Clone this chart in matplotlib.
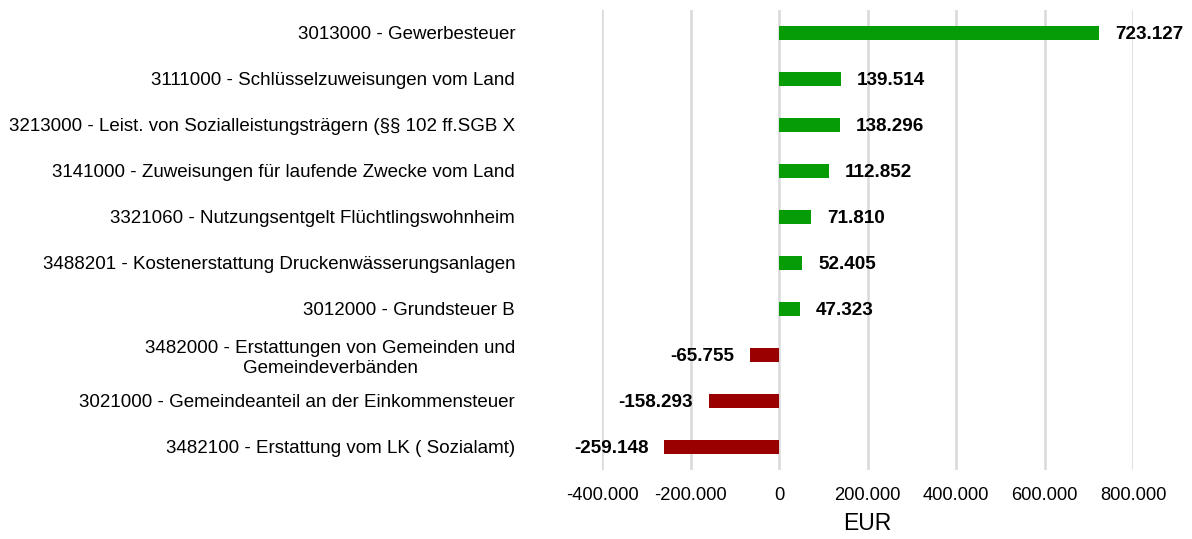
import matplotlib
matplotlib.use("Agg")
import matplotlib.pyplot as plt
from matplotlib.ticker import FuncFormatter

categories = [
    "3013000 - Gewerbesteuer",
    "3111000 - Schlüsselzuweisungen vom Land",
    "3213000 - Leist. von Sozialleistungsträgern (§§ 102 ff.SGB X",
    "3141000 - Zuweisungen für laufende Zwecke vom Land",
    "3321060 - Nutzungsentgelt Flüchtlingswohnheim",
    "3488201 - Kostenerstattung Druckenwässerungsanlagen",
    "3012000 - Grundsteuer B",
    "3482000 - Erstattungen von Gemeinden und\nGemeindeverbänden",
    "3021000 - Gemeindeanteil an der Einkommensteuer",
    "3482100 - Erstattung vom LK ( Sozialamt)",
]
values = [723127, 139514, 138296, 112852, 71810, 52405, 47323, -65755, -158293, -259148]
xticks = [-400000, -200000, 0, 200000, 400000, 600000, 800000]

GREEN = "#069C06"
RED = "#990000"

def de(v):
    s = f"{abs(int(round(v))):,}".replace(",", ".")
    return ("-" if v < 0 else "") + s

plt.rcParams["font.family"] = ["Liberation Sans", "DejaVu Sans"]

fig = plt.figure(figsize=(11.92, 5.39), dpi=100)
ax = fig.add_axes([602/1192, 1-470/539, (1133-602)/1192, (470-10)/539])

ypos = list(range(len(categories)))
colors = [GREEN if v >= 0 else RED for v in values]
ax.barh(ypos, values, height=0.32, color=colors, zorder=3)

ax.set_ylim(len(categories)-0.5, -0.5)
ax.set_xlim(-400000, 800000)
ax.set_xticks(xticks)
ax.xaxis.set_major_formatter(FuncFormatter(lambda v, p: de(v)))
ax.set_yticks(ypos)
ax.set_yticklabels(categories, fontsize=13.5)
for lab in ax.get_yticklabels():
    lab.set_multialignment("center")
    lab.set_verticalalignment("center_baseline")
ax.tick_params(axis="y", length=0, pad=62.5)
ax.tick_params(axis="x", length=0, pad=12, labelsize=13.2)
ax.grid(axis="x", color="#D9D9D9", linewidth=1.8, zorder=0)
for s in ax.spines.values():
    s.set_visible(False)
ax.set_xlabel("EUR", fontsize=16.5, labelpad=6)

for y, v in zip(ypos, values):
    off = 16 if v >= 0 else -16
    ax.annotate(de(v), xy=(v, y), xytext=(off*0.72, 0), textcoords="offset points",
                ha="left" if v >= 0 else "right", va="center_baseline",
                fontsize=13.6, fontweight="bold", annotation_clip=False)

fig.savefig("out.png", dpi=100)
